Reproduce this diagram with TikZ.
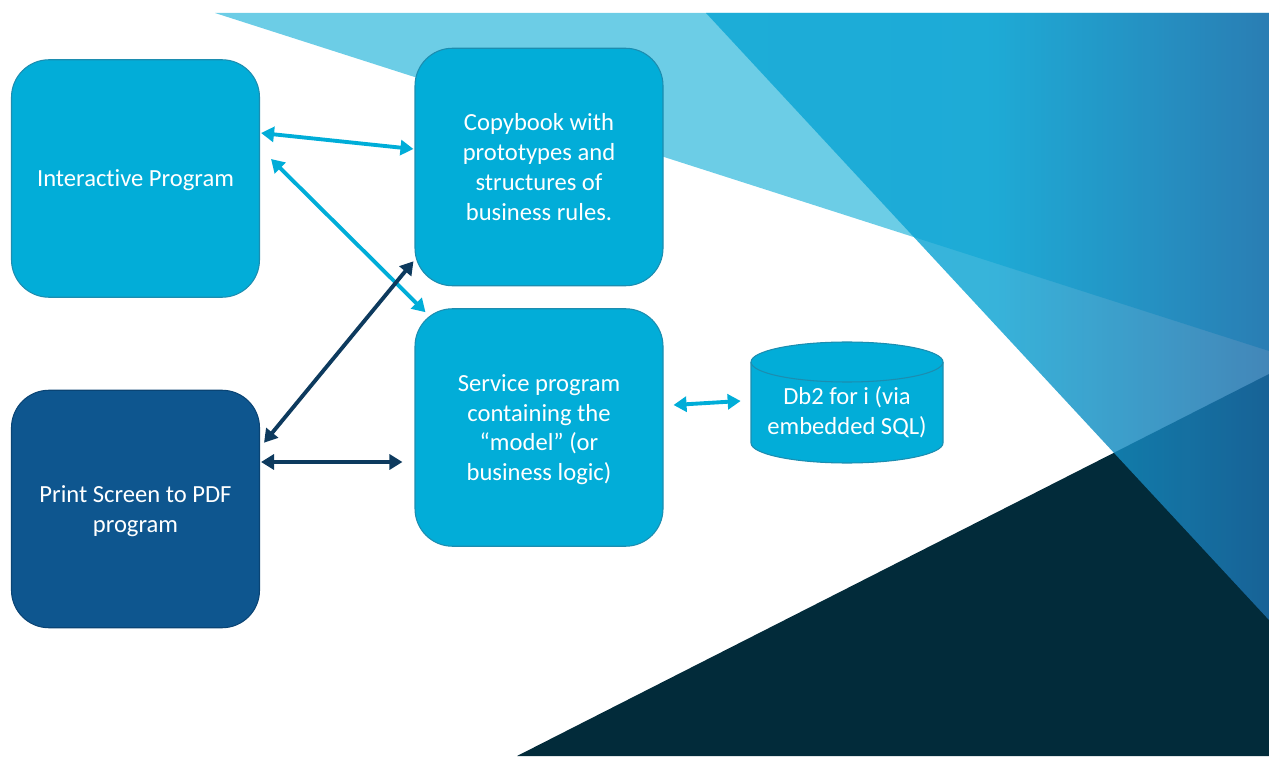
\documentclass[tikz,border=0pt]{standalone}
\usepackage{fontspec}
\setmainfont{Carlito}[Ligatures={NoCommon,NoContextual}]
\usepackage{xcolor}
\usepackage{tikz}
\usetikzlibrary{calc,arrows.meta}

\definecolor{bgLight}{RGB}{108,205,230}
\definecolor{bgNavy}{RGB}{2,43,58}
\definecolor{bgMidL}{RGB}{14,167,213}
\definecolor{bgMidR}{RGB}{29,110,170}
\definecolor{boxCyan}{RGB}{2,173,216}
\definecolor{boxCyanEdge}{RGB}{28,141,176}
\definecolor{boxNavy}{RGB}{14,86,143}
\definecolor{boxNavyEdge}{RGB}{10,68,116}
\definecolor{arrCyan}{RGB}{0,173,216}
\definecolor{arrNavy}{RGB}{13,58,94}

\begin{document}
\begin{tikzpicture}[
    font=\fontsize{14pt}{17pt}\selectfont,
    blk/.style={rectangle, rounded corners=0.75cm, minimum width=4.96cm, minimum height=4.75cm, align=center, text=white, text depth=0pt, line width=0.6pt},
    cyanblk/.style={blk, fill=boxCyan, draw=boxCyanEdge},
    navyblk/.style={blk, fill=boxNavy, draw=boxNavyEdge},
    link/.style={line width=2.2pt, {Triangle[length=2.6mm,width=3mm]}-{Triangle[length=2.6mm,width=3mm]}}
  ]
  \useasboundingbox (0,0) rectangle (25.38,15.12);

  % Background wedges
  \fill[bgLight] (4.30,14.86) -- (25.38,14.86) -- (25.38,8.10) -- cycle;
  \fill[bgNavy] (10.34,0) -- (25.38,7.64) -- (25.38,0) -- cycle;
  \shade[left color=bgMidL, right color=bgMidR, middle color=bgMidL!96!bgMidR, fill opacity=0.83]
    (14.12,14.86) -- (25.38,14.86) -- (25.38,2.72) -- cycle;

  % Program blocks
  \node[cyanblk] (n_inter) at (2.71,11.55) {Interactive Program};
  \node[cyanblk] (n_copy) at (10.78,11.78) {Copybook with\\prototypes and\\structures of\\business rules.};
  \node[cyanblk] (n_svc) at (10.78,6.57) {Service program\\containing the\\“model” (or\\business logic)};
  \node[navyblk] (n_print) at (2.71,4.94) {Print Screen to PDF\\program};

  % Database can
  \coordinate (db_top) at (16.94,7.88);
  \coordinate (db_bot) at (16.94,6.26);
  \draw[fill=boxCyan, draw=boxCyanEdge, line width=0.6pt] ($(db_top)+(-1.92,0)$) -- ($(db_bot)+(-1.92,0)$)
    arc[start angle=180, end angle=360, x radius=1.92, y radius=0.4] -- ($(db_top)+(1.92,0)$)
    arc[start angle=0, end angle=180, x radius=1.92, y radius=0.4] -- cycle;
  \draw[boxCyanEdge, line width=0.6pt] ($(db_top)+(-1.92,0)$) arc[start angle=180, end angle=360, x radius=1.92, y radius=0.4];
  \node[text=white, align=center, minimum width=3.84cm] (n_db) at (16.94,6.88) {Db2 for i (via\\embedded SQL)};

  % Links
  \draw[link, arrCyan] ($(n_inter.east)+(0.02,0.91)$) -- ($(n_copy.west)+(-0.02,0.36)$);
  \draw[link, arrCyan] ($(n_inter.east)+(0.22,0.39)$) -- ($(n_svc.north west)+(0.22,-0.08)$);
  \draw[link, arrNavy] ($(n_print.north east)+(0.08,-1.06)$) -- ($(n_copy.south west)+(-0.02,0.50)$);
  \draw[link, arrNavy] ($(n_print.east)+(0.02,0.94)$) -- ($(n_svc.west)+(-0.24,-0.69)$);
  \draw[link, arrCyan] ($(n_svc.east)+(0.20,0.45)$) -- ($(n_db.west)+(-0.20,0.22)$);
\end{tikzpicture}
\end{document}
